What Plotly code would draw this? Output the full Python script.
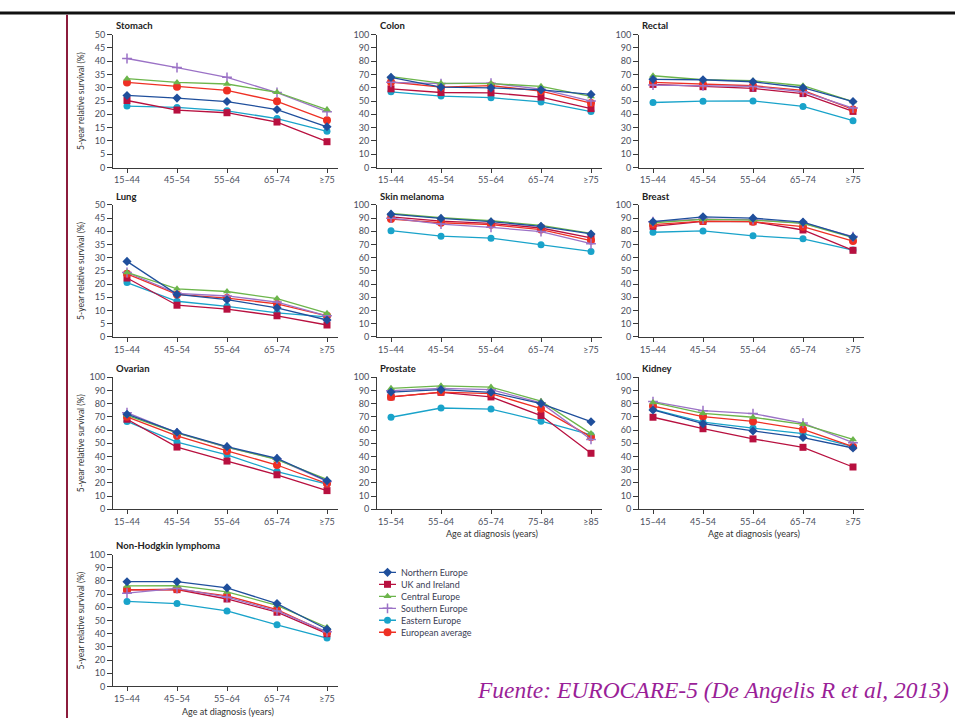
import plotly.graph_objects as go

W, H = 955, 723

# Age-group labels
age_groups = ["15–44", "45–54", "55–64", "65–74", "≥75"]
prostate_groups = ["15–54", "55–64", "65–74", "75–84", "≥85"]

regions = ["Northern Europe", "UK and Ireland", "Central Europe",
           "Southern Europe", "Eastern Europe", "European average"]

# 5-year relative survival (%) by region, one list per age group
stomach = {
    "Northern Europe": [27.1, 26.1, 24.8, 21.8, 15.3],
    "UK and Ireland": [25.2, 21.6, 20.6, 17.1, 9.7],
    "Central Europe": [33.4, 32.0, 31.4, 28.3, 21.8],
    "Southern Europe": [41.0, 37.6, 33.9, 28.2, 21.0],
    "Eastern Europe": [23.1, 22.6, 21.3, 18.4, 13.6],
    "European average": [32.0, 30.4, 29.0, 24.9, 17.8],
}
colon = {
    "Northern Europe": [67.8, 60.4, 59.9, 58.4, 55.0],
    "UK and Ireland": [59.2, 56.4, 56.2, 53.0, 44.3],
    "Central Europe": [68.3, 63.4, 63.1, 61.1, 53.5],
    "Southern Europe": [64.1, 63.1, 63.4, 58.9, 50.0],
    "Eastern Europe": [56.9, 53.7, 52.5, 49.3, 42.1],
    "European average": [64.3, 60.4, 61.6, 57.4, 48.5],
}
rectal = {
    "Northern Europe": [66.3, 66.0, 64.5, 60.0, 49.6],
    "UK and Ireland": [62.5, 60.8, 59.5, 55.6, 42.2],
    "Central Europe": [69.0, 66.0, 65.3, 61.5, 49.6],
    "Southern Europe": [62.0, 61.5, 61.0, 57.0, 44.7],
    "Eastern Europe": [48.9, 49.9, 50.1, 45.9, 35.2],
    "European average": [64.0, 62.5, 61.5, 58.0, 43.7],
}
lung = {
    "Northern Europe": [28.6, 16.1, 14.1, 11.0, 6.4],
    "UK and Ireland": [22.3, 12.0, 10.5, 8.0, 4.5],
    "Central Europe": [24.4, 18.2, 17.2, 14.5, 9.0],
    "Southern Europe": [24.4, 16.5, 15.5, 13.2, 8.0],
    "Eastern Europe": [20.6, 13.5, 11.6, 9.1, 7.6],
    "European average": [23.9, 16.1, 14.7, 12.5, 8.0],
}
skin_melanoma = {
    "Northern Europe": [93.0, 89.8, 87.3, 83.8, 78.0],
    "UK and Ireland": [91.0, 87.8, 86.0, 82.5, 75.0],
    "Central Europe": [93.5, 90.3, 88.0, 84.5, 78.5],
    "Southern Europe": [90.0, 85.5, 83.0, 79.8, 70.6],
    "Eastern Europe": [80.5, 76.3, 74.8, 69.8, 64.8],
    "European average": [89.3, 86.5, 85.0, 81.3, 73.0],
}
breast = {
    "Northern Europe": [87.3, 91.0, 90.0, 87.0, 75.6],
    "UK and Ireland": [83.8, 87.5, 87.3, 81.0, 65.6],
    "Central Europe": [86.5, 89.0, 88.5, 86.0, 75.3],
    "Southern Europe": [87.3, 89.3, 88.8, 86.3, 76.0],
    "Eastern Europe": [79.3, 80.3, 76.6, 74.3, 65.8],
    "European average": [85.0, 87.8, 87.3, 83.5, 72.6],
}
ovarian = {
    "Northern Europe": [72.0, 58.3, 47.4, 38.5, 21.6],
    "UK and Ireland": [68.2, 47.1, 36.5, 26.1, 14.1],
    "Central Europe": [71.2, 57.8, 47.1, 37.5, 22.6],
    "Southern Europe": [73.2, 57.8, 46.9, 38.0, 21.1],
    "Eastern Europe": [66.5, 50.9, 41.2, 28.5, 19.1],
    "European average": [70.0, 55.6, 44.2, 33.5, 19.4],
}
prostate = {
    "Northern Europe": [88.8, 90.6, 88.6, 80.1, 66.3],
    "UK and Ireland": [85.1, 88.6, 85.1, 71.0, 42.4],
    "Central Europe": [91.6, 93.5, 92.6, 81.9, 57.3],
    "Southern Europe": [89.8, 91.6, 90.6, 80.6, 52.9],
    "Eastern Europe": [69.7, 76.7, 75.9, 66.7, 56.3],
    "European average": [85.1, 88.8, 87.6, 76.2, 54.8],
}
kidney = {
    "Northern Europe": [75.2, 64.8, 59.3, 54.3, 46.4],
    "UK and Ireland": [69.7, 61.0, 53.3, 46.9, 32.0],
    "Central Europe": [80.9, 72.7, 69.7, 64.3, 52.9],
    "Southern Europe": [81.6, 74.7, 72.5, 65.3, 50.4],
    "Eastern Europe": [75.7, 66.0, 61.5, 57.3, 47.4],
    "European average": [78.2, 70.2, 66.5, 60.5, 47.4],
}
non_hodgkin = {
    "Northern Europe": [79.4, 79.4, 74.7, 62.8, 43.4],
    "UK and Ireland": [73.2, 73.4, 66.3, 56.3, 40.0],
    "Central Europe": [76.2, 76.4, 71.7, 61.5, 44.9],
    "Southern Europe": [70.7, 74.4, 67.7, 57.3, 41.4],
    "Eastern Europe": [64.5, 62.8, 57.3, 46.7, 36.7],
    "European average": [73.2, 73.7, 68.7, 58.3, 40.9],
}

# Marker / line style for each region
styles = {
    "Northern Europe": dict(color="#1f4f9c", symbol="diamond", size=7),
    "UK and Ireland": dict(color="#b8103f", symbol="square", size=7),
    "Central Europe": dict(color="#6cb54b", symbol="triangle-up", size=7),
    "Southern Europe": dict(color="#9b72c6", symbol="cross-thin", size=7),
    "Eastern Europe": dict(color="#19a3ca", symbol="circle", size=7),
    "European average": dict(color="#ee3024", symbol="circle", size=8),
}
draw_order = ["Eastern Europe", "UK and Ireland", "European average",
              "Southern Europe", "Central Europe", "Northern Europe"]

# (title, data, categories, ymax, dtick, row, col, show y title, show x title)
panels = [
    ("Stomach", stomach, age_groups, 50, 5, 0, 0, True, False),
    ("Colon", colon, age_groups, 100, 10, 0, 1, False, False),
    ("Rectal", rectal, age_groups, 100, 10, 0, 2, False, False),
    ("Lung", lung, age_groups, 50, 5, 1, 0, True, False),
    ("Skin melanoma", skin_melanoma, age_groups, 100, 10, 1, 1, False, False),
    ("Breast", breast, age_groups, 100, 10, 1, 2, False, False),
    ("Ovarian", ovarian, age_groups, 100, 10, 2, 0, True, False),
    ("Prostate", prostate, prostate_groups, 100, 10, 2, 1, False, True),
    ("Kidney", kidney, age_groups, 100, 10, 2, 2, False, True),
    ("Non-Hodgkin lymphoma", non_hodgkin, age_groups, 100, 10, 3, 0, True, True),
]

col_left = [113, 377, 639]
axis_w = 225
row_top = [29, 202, 377, 557]
row_bot = [164, 336, 511, 691]

FONT = "Lato, 'Open Sans', sans-serif"
TICK_COLOR = "#4a4e5c"
AXIS_COLOR = "#3a3a3a"

fig = go.Figure()
layout = dict(
    width=W, height=H, margin=dict(l=0, r=0, t=0, b=0),
    paper_bgcolor="white", plot_bgcolor="white", showlegend=False,
    font=dict(family=FONT, size=9, color=TICK_COLOR),
)
annotations = []
shapes = []


def px_x(x):
    return x / W


def px_y(y):
    return 1 - y / H


def marker_style(st):
    return dict(symbol=st["symbol"], size=st["size"], color=st["color"],
                line=dict(color=st["color"], width=1.5 if st["symbol"] == "cross-thin" else 0))


for i, (title, data, cats, ymax, dtick, r, c, ytitle, xtitle) in enumerate(panels, start=1):
    xa = "x" if i == 1 else f"x{i}"
    ya = "y" if i == 1 else f"y{i}"
    x0 = col_left[c]
    top, bot = row_top[r], row_bot[r]
    for reg in draw_order:
        st = styles[reg]
        fig.add_trace(go.Scatter(
            x=list(range(len(cats))), y=data[reg], xaxis=xa, yaxis=ya,
            mode="lines+markers", name=reg, cliponaxis=False,
            line=dict(color=st["color"], width=1.3),
            marker=marker_style(st), hoverinfo="skip",
        ))
    key = "" if i == 1 else str(i)
    layout[f"xaxis{key}"] = dict(
        domain=[px_x(x0), px_x(x0 + axis_w)], anchor=ya, range=[-0.28, 4.22],
        tickmode="array", tickvals=list(range(len(cats))), ticktext=cats,
        showline=True, linecolor=AXIS_COLOR, linewidth=1, ticks="outside",
        ticklen=4, tickcolor=AXIS_COLOR, showgrid=False, zeroline=False,
        tickfont=dict(family=FONT, size=9, color=TICK_COLOR), fixedrange=True,
    )
    layout[f"yaxis{key}"] = dict(
        domain=[px_y(bot), px_y(top)], anchor=xa, range=[0, ymax], dtick=dtick,
        tick0=0, showline=True, linecolor=AXIS_COLOR, linewidth=1, ticks="outside",
        ticklen=5, tickcolor=AXIS_COLOR, showgrid=False, zeroline=False,
        tickfont=dict(family=FONT, size=9, color=TICK_COLOR), fixedrange=True,
    )
    annotations.append(dict(
        text=f"<b>{title}</b>", xref="paper", yref="paper",
        x=px_x(x0 + 1), y=px_y(top - 9), xanchor="left", yanchor="middle",
        showarrow=False, font=dict(family=FONT, size=9.5, color="#222222"),
    ))
    if ytitle:
        annotations.append(dict(
            text="5-year relative survival (%)", xref="paper", yref="paper",
            x=px_x(81), y=px_y((top + bot) / 2), textangle=-90,
            xanchor="center", yanchor="middle", showarrow=False,
            font=dict(family=FONT, size=8.5, color="#333333"),
        ))
    if xtitle:
        annotations.append(dict(
            text="Age at diagnosis (years)", xref="paper", yref="paper",
            x=px_x(x0 + axis_w / 2 + 2), y=px_y(bot + 25),
            xanchor="center", yanchor="middle", showarrow=False,
            font=dict(family=FONT, size=9, color="#333333"),
        ))

# Legend drawn on its own hidden axis: a short line with the region marker
li = len(panels) + 1
leg_top, leg_bot = 569, 642
row_h = (leg_bot - leg_top) / len(regions)
for k, reg in enumerate(regions):
    st = styles[reg]
    fig.add_trace(go.Scatter(
        x=[0, 0.5, 1], y=[k, k, k], xaxis=f"x{li}", yaxis=f"y{li}",
        mode="lines", line=dict(color=st["color"], width=1.3), hoverinfo="skip",
    ))
    fig.add_trace(go.Scatter(
        x=[0.5], y=[k], xaxis=f"x{li}", yaxis=f"y{li}", mode="markers",
        marker=marker_style(st), cliponaxis=False, hoverinfo="skip",
    ))
    annotations.append(dict(
        text=reg, xref="paper", yref="paper", x=px_x(399),
        y=px_y(leg_top + row_h * (k + 0.5)), xanchor="left", yanchor="middle",
        showarrow=False, font=dict(family=FONT, size=9, color="#3a3d55"),
    ))
layout[f"xaxis{li}"] = dict(domain=[px_x(379), px_x(396)], range=[0, 1], anchor=f"y{li}",
                            visible=False, fixedrange=True)
layout[f"yaxis{li}"] = dict(domain=[px_y(leg_bot), px_y(leg_top)], range=[len(regions) - 0.5, -0.5],
                            anchor=f"x{li}", visible=False, fixedrange=True)

# Source note
annotations.append(dict(
    text="<i>Fuente: EUROCARE-5 (De Angelis R et al, 2013)</i>", xref="paper", yref="paper",
    x=px_x(951), y=px_y(695), xanchor="right", yanchor="middle", showarrow=False,
    font=dict(family="'Liberation Serif', 'Times New Roman', serif", size=23.5, color="#9a1f98"),
))

# Frame lines: black rule across the top and a dark red rule at the left
shapes.append(dict(type="line", xref="paper", yref="paper", x0=0, x1=1,
                   y0=px_y(7), y1=px_y(7), line=dict(color="#111111", width=3)))
shapes.append(dict(type="line", xref="paper", yref="paper", x0=px_x(67), x1=px_x(67),
                   y0=px_y(9), y1=0, line=dict(color="#8c1c3c", width=2)))

layout["annotations"] = annotations
layout["shapes"] = shapes
fig.update_layout(**layout)
fig.write_html("out.html")
